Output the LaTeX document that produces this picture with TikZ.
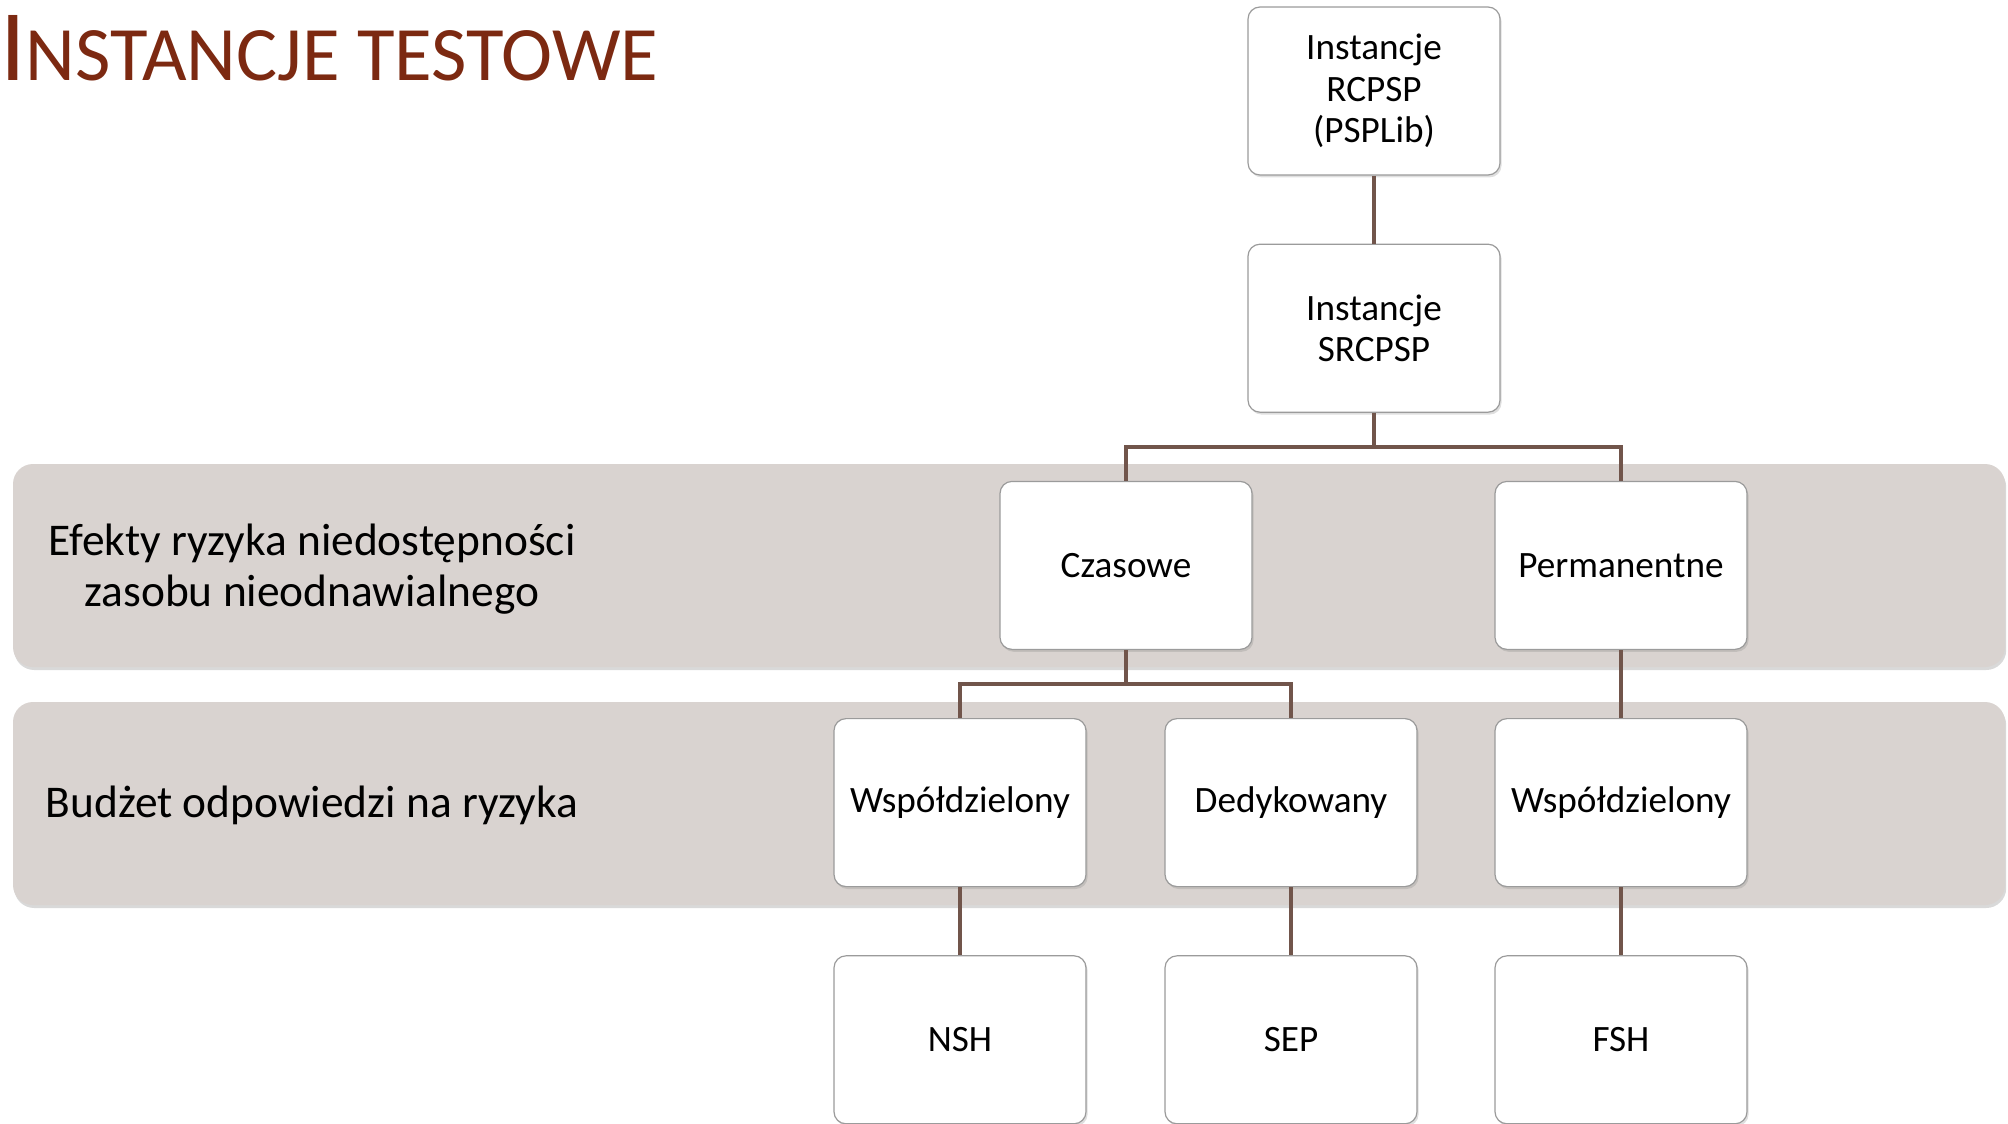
\documentclass[tikz,border=0pt]{standalone}
\usepackage{fontspec}
\setmainfont{Carlito}
\usetikzlibrary{positioning,shadows}

\definecolor{titlered}{RGB}{124,41,17}
\definecolor{bandgray}{RGB}{217,211,208}
\definecolor{boxgray}{RGB}{155,155,155}
\definecolor{linkbrown}{RGB}{113,85,75}

\tikzset{
	stage/.style={draw=boxgray,line width=0.6pt,fill=white,rounded corners=6pt,
		minimum width=126pt,minimum height=84pt,inner sep=0pt,align=center,
		font=\fontsize{18.6}{20.8}\selectfont,
		drop shadow={shadow xshift=0.8pt,shadow yshift=-1.2pt,opacity=0.25}},
	band/.style={fill=bandgray,rounded corners=10pt,
		drop shadow={shadow xshift=0.6pt,shadow yshift=-1.5pt,opacity=0.3}},
	bandlabel/.style={align=center,font=\fontsize{22.7}{25.5}\selectfont},
	link/.style={draw=linkbrown,line width=2pt},
}

\begin{document}
\begin{tikzpicture}[x=0.5pt,y=-0.5pt,node distance=34pt]
				\useasboundingbox (0,0) rectangle (2008,1124);
				% title
				\node[anchor=base west,inner sep=0pt,text=titlered] (title) at (0,80)
					{\fontsize{50.7}{50}\selectfont I\fontsize{38.5}{38}\selectfont NSTANCJE TESTOWE};
				% bands
				\fill[band] (13,464) rectangle (2005,667);
				\fill[band] (13,702) rectangle (2005,905);
				\node[bandlabel] (efekty) at (312,569) {Efekty ryzyka niedostępności\\zasobu nieodnawialnego};
				\node[bandlabel] (budzet) at (312,805) {Budżet odpowiedzi na ryzyka};
				% tree
				\node[stage] (rcpsp) at (1374,91) {Instancje\\RCPSP\\(PSPLib)};
				\node[stage,below=of rcpsp] (srcpsp) {Instancje\\SRCPSP};
				\node[stage,below=of srcpsp,xshift=-124pt] (czas) {Czasowe};
				\node[stage,below=of srcpsp,xshift=123.5pt] (perm) {Permanentne};
				\node[stage,below=of czas,xshift=-83pt] (wsp1) {Współdzielony};
				\node[stage,below=of czas,xshift=82.5pt] (ded) {Dedykowany};
				\node[stage,below=of perm] (wsp2) {Współdzielony};
				\node[stage,below=of wsp1] (nsh) {NSH};
				\node[stage,below=of ded] (sep) {SEP};
				\node[stage,below=of wsp2] (fsh) {FSH};
				% connectors
				\draw[link] (rcpsp) -- (srcpsp);
				\draw[link] (srcpsp.south) -- ++(0,34) -| (czas.north);
				\draw[link] (srcpsp.south) -- ++(0,34) -| (perm.north);
				\draw[link] (czas.south) -- ++(0,34) -| (wsp1.north);
				\draw[link] (czas.south) -- ++(0,34) -| (ded.north);
				\foreach \a/\b in {perm/wsp2,wsp1/nsh,ded/sep,wsp2/fsh}
					\draw[link] (\a) -- (\b);
\end{tikzpicture}
\end{document}
